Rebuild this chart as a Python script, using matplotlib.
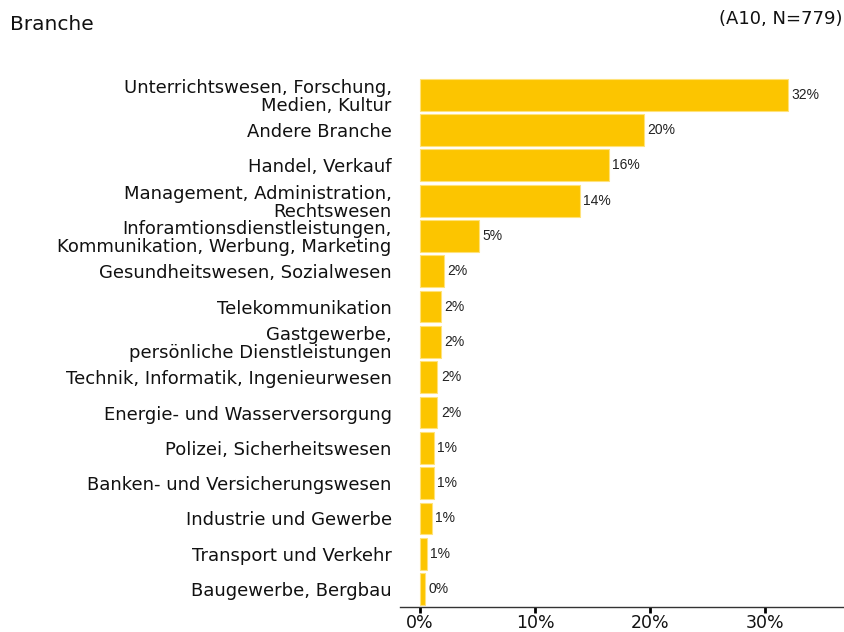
import matplotlib.pyplot as plt
from matplotlib.ticker import FuncFormatter

# Data (share of respondents, %)
categories = [
    "Unterrichtswesen, Forschung,\nMedien, Kultur",
    "Andere Branche",
    "Handel, Verkauf",
    "Management, Administration,\nRechtswesen",
    "Inforamtionsdienstleistungen,\nKommunikation, Werbung, Marketing",
    "Gesundheitswesen, Sozialwesen",
    "Telekommunikation",
    "Gastgewerbe,\npersönliche Dienstleistungen",
    "Technik, Informatik, Ingenieurwesen",
    "Energie- und Wasserversorgung",
    "Polizei, Sicherheitswesen",
    "Banken- und Versicherungswesen",
    "Industrie und Gewerbe",
    "Transport und Verkehr",
    "Baugewerbe, Bergbau",
]
values = [32.0, 19.5, 16.4, 13.9, 5.1, 2.05, 1.8, 1.8, 1.5, 1.5, 1.2, 1.2, 1.0, 0.6, 0.4]
x_ticks = [0, 10, 20, 30]

bar_color = "#FCC500"

fig = plt.figure(figsize=(8.44, 6.32), dpi=100)
ax = fig.add_axes([0.474, 0.040, 0.525, 0.838])

y = list(range(len(categories)))[::-1]
ax.barh(y, values, height=0.9, color=bar_color, edgecolor="#FFE27A", linewidth=0.8)

for yi, v in zip(y, values):
    ax.text(v + 0.3, yi, f"{v:.0f}%", va="center", ha="left",
            fontsize=10, color="#222222", family="Liberation Sans")

ax.set_xlim(-1.74, 36.8)
ax.set_ylim(-0.5, len(categories) - 0.5)
ax.set_xticks(x_ticks)
ax.xaxis.set_major_formatter(FuncFormatter(lambda v, p: f"{v:.0f}%"))
ax.tick_params(axis="x", length=4, width=2, color="black", labelsize=12.5,
               labelcolor="#111111", pad=1)
ax.set_yticks(y)
ax.set_yticklabels(categories, fontsize=13, linespacing=1.0, color="#111111")
ax.tick_params(axis="y", length=0, pad=6)

for side in ["top", "right", "left"]:
    ax.spines[side].set_visible(False)
ax.spines["bottom"].set_linewidth(1.0)
ax.spines["bottom"].set_color("#333333")

fig.text(0.012, 0.962, "Branche", fontsize=14.5, ha="left", va="center", color="#111111")
fig.text(0.998, 0.970, "(A10, N=779)", fontsize=13, ha="right", va="center", color="#111111")

fig.savefig("out.png", dpi=100)
